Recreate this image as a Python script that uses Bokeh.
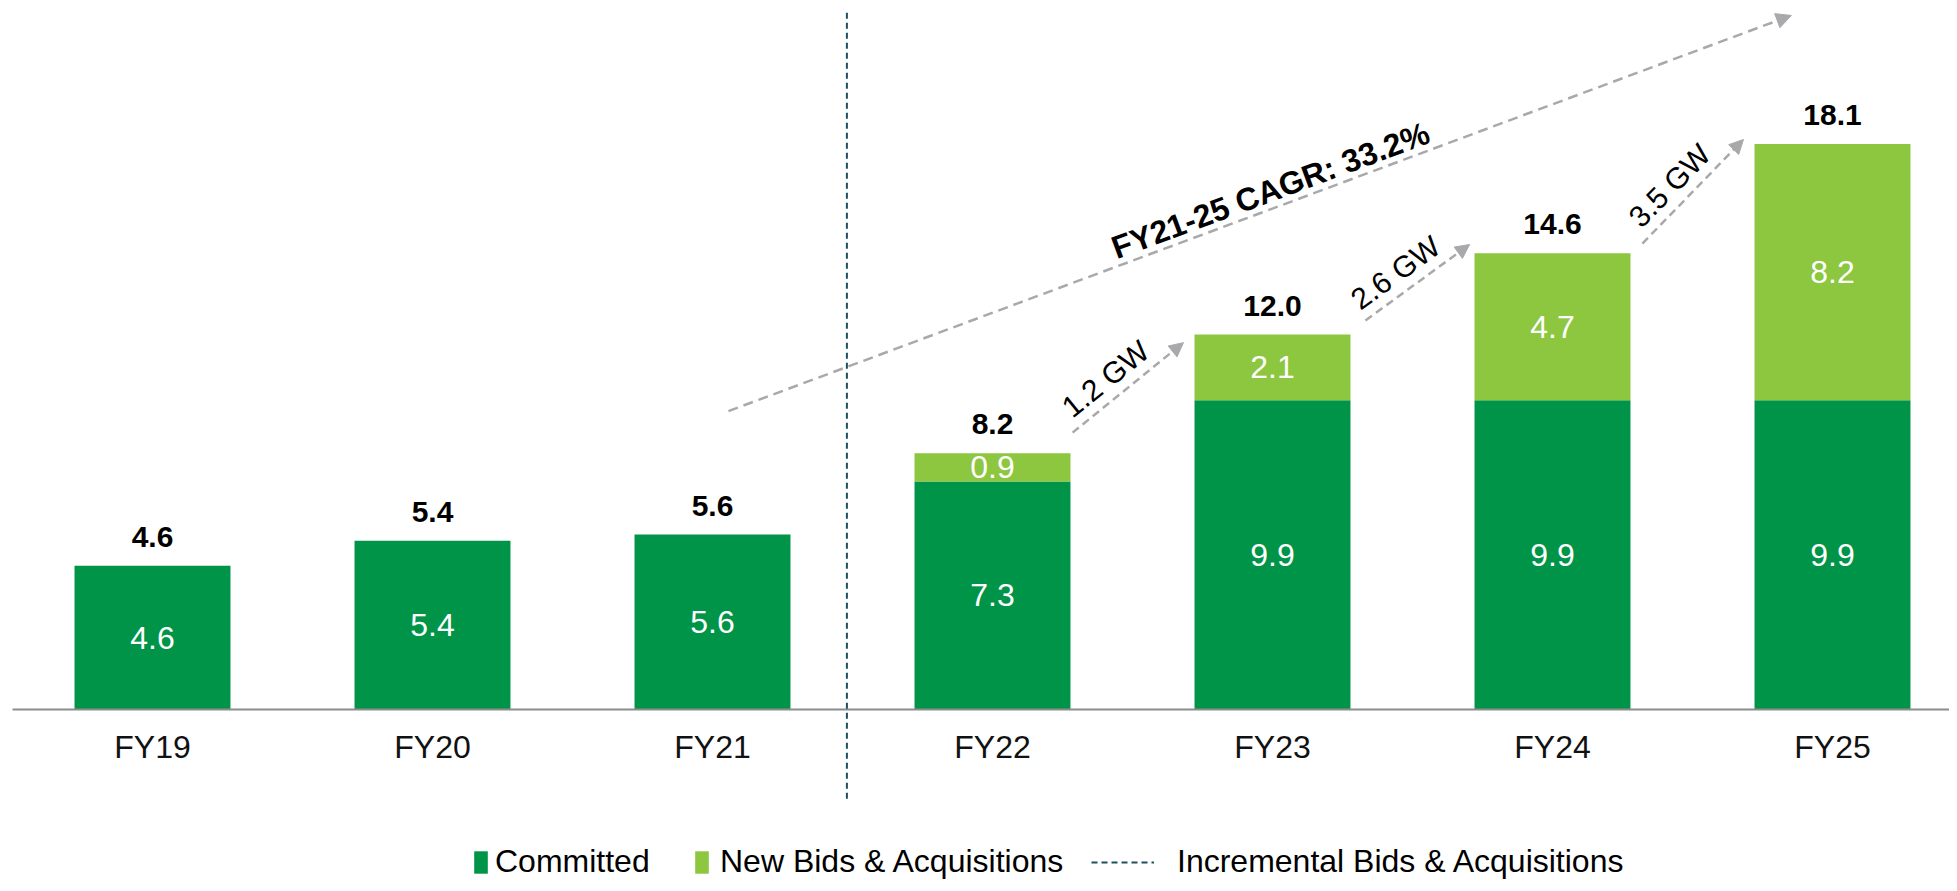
import math
from bokeh.plotting import figure
from bokeh.models import ColumnDataSource, Range1d, Arrow, NormalHead, Legend, LegendItem
from bokeh.core.properties import value
from bokeh.embed import file_html
from bokeh.resources import INLINE

# ---------------- data ----------------
categories = ["FY19", "FY20", "FY21", "FY22", "FY23", "FY24", "FY25"]
committed = [4.6, 5.4, 5.6, 7.3, 9.9, 9.9, 9.9]
new_bids = [0.0, 0.0, 0.0, 0.9, 2.1, 4.7, 8.2]
totals = [4.6, 5.4, 5.6, 8.2, 12.0, 14.6, 18.1]
increment_labels = ["1.2 GW", "2.6 GW", "3.5 GW"]
cagr_label = "FY21-25 CAGR: 33.2%"
series_names = ["Committed", "New Bids & Acquisitions", "Incremental Bids & Acquisitions"]

# ---------------- layout / style ----------------
W, H = 1949, 883
PXX, PXY = 280.0, 31.25          # pixels per data unit
X0 = -152 / PXX
X1 = X0 + W / PXX
Y0 = -(H - 709) / PXY
Y1 = Y0 + H / PXY
BAR_W = 0.557
FONT = "Liberation Sans"
DARK = "#009448"
LIGHT = "#8DC63F"
GRAY = "#A9A9AC"
SEP = "#1F4E5E"
AXIS = "#8C8C8C"

p = figure(width=W, height=H, x_range=Range1d(X0, X1), y_range=Range1d(Y0, Y1),
           output_backend="svg", toolbar_location=None,
           x_axis_location=None, y_axis_location=None, min_border=0)
p.grid.visible = False
p.outline_line_color = None
p.background_fill_color = "white"

idx = list(range(len(categories)))
src = ColumnDataSource(dict(x=idx, cat=categories, committed=committed, new=new_bids,
                            total=totals,
                            c_mid=[c / 2 for c in committed],
                            c_lab=[f"{c:.1f}" for c in committed],
                            t_lab=[f"{t:.1f}" for t in totals]))

r_c = p.vbar(x="x", bottom=0, top="committed", width=BAR_W, source=src,
             fill_color=DARK, line_color=None)
new_src = ColumnDataSource(dict(
    x=[i for i, n in zip(idx, new_bids) if n > 0],
    bottom=[c for c, n in zip(committed, new_bids) if n > 0],
    top=[c + n for c, n in zip(committed, new_bids) if n > 0],
    mid=[c + n / 2 for c, n in zip(committed, new_bids) if n > 0],
    lab=[f"{n:.1f}" for n in new_bids if n > 0]))
r_n = p.vbar(x="x", bottom="bottom", top="top", width=BAR_W, source=new_src,
             fill_color=LIGHT, line_color=None)

# baseline axis
p.segment(x0=[idx[0] - 0.5], y0=[0], x1=[X1 + 1], y1=[0], line_color=AXIS, line_width=2)

# separator
r_sep = p.segment(x0=[2.48], y0=[22.3], x1=[2.48], y1=[-2.88],
                  line_color=SEP, line_width=2, line_dash="6 4")

# category labels
p.text(x="x", y=0, text="cat", source=src, y_offset=37, text_align="center",
       text_baseline="middle", text_font=value(FONT), text_font_size="32px",
       text_color="#111111")
# inner labels
p.text(x="x", y="c_mid", text="c_lab", source=src, text_align="center",
       text_baseline="middle", text_font=value(FONT), text_font_size="32px",
       text_color="white")
p.text(x="x", y="mid", text="lab", source=new_src, text_align="center",
       text_baseline="middle", text_font=value(FONT), text_font_size="32px",
       text_color="white")
# totals
p.text(x="x", y="total", text="t_lab", source=src, y_offset=-29, text_align="center",
       text_baseline="middle", text_font=value(FONT), text_font_size="30px",
       text_font_style="bold", text_color="black")

# incremental arrows between FY22..FY25
start_dx = [0.286, 0.332, 0.321]
start_dy = [0.66, 0.45, 0.31]
end_dx = [-0.318, -0.296, -0.318]
end_dy = [-0.26, 0.28, 0.14]
xs, ys, xe, ye, tx, ty, ta = [], [], [], [], [], [], []
for k in range(3):
    i = 3 + k
    x_s = i + start_dx[k]
    y_s = totals[i] + start_dy[k]
    x_e = i + 1 + end_dx[k]
    y_e = totals[i + 1] + end_dy[k]
    xs.append(x_s); ys.append(y_s); xe.append(x_e); ye.append(y_e)
    dxp = (x_e - x_s) * PXX
    dyp = (y_e - y_s) * PXY
    L = math.hypot(dxp, dyp)
    d = (dxp / L, dyp / L)
    nrm = (-d[1], d[0])
    mx = (x_s + x_e) / 2 * PXX
    my = (y_s + y_e) / 2 * PXY
    px = mx + 21 * nrm[0] - 12 * d[0]
    py = my + 21 * nrm[1] - 12 * d[1]
    tx.append(px / PXX); ty.append(py / PXY); ta.append(math.atan2(dyp, dxp))

arr_src = ColumnDataSource(dict(xs=xs, ys=ys, xe=xe, ye=ye))
p.add_layout(Arrow(end=NormalHead(size=14, fill_color=GRAY, line_color=GRAY, line_width=1),
                   x_start="xs", y_start="ys", x_end="xe", y_end="ye", source=arr_src,
                   line_color=GRAY, line_width=2.5, line_dash="8 5"))
p.text(x=tx, y=ty, text=increment_labels, angle=ta, text_align="center",
       text_baseline="middle", text_font=value(FONT), text_font_size="30px",
       text_color="black")

# CAGR arrow
cs = (2.057, 9.55)
ce = (5.853, 22.21)
p.add_layout(Arrow(end=NormalHead(size=15, fill_color=GRAY, line_color=GRAY, line_width=1),
                   x_start=cs[0], y_start=cs[1], x_end=ce[0], y_end=ce[1],
                   line_color=GRAY, line_width=2.5, line_dash="10 6"))
cang = math.atan2((ce[1] - cs[1]) * PXY, (ce[0] - cs[0]) * PXX)
p.text(x=[3.993], y=[16.61], text=[cagr_label], angle=[cang], text_align="center",
       text_baseline="middle", text_font=value(FONT), text_font_size="32px",
       text_font_style="bold", text_color="black")

# legends
def add_legend(label, rend, loc, gw, gh, standoff):
    leg = Legend(items=[LegendItem(label=label, renderers=[rend])], location=loc,
                 orientation="horizontal", glyph_width=gw, glyph_height=gh,
                 label_standoff=standoff, padding=0, margin=0, spacing=0,
                 border_line_color=None, background_fill_alpha=0,
                 label_text_font=FONT, label_text_font_size="32px",
                 label_text_color="black", label_height=30)
    p.add_layout(leg)

add_legend(series_names[0], r_c, (472, 3), 17, 28, 6)
add_legend(series_names[1], r_n, (693, 3), 17, 28, 10)
add_legend(series_names[2], r_sep, (1091, 3), 63, 28, 23)

open("out.html", "w").write(file_html(p, INLINE))
